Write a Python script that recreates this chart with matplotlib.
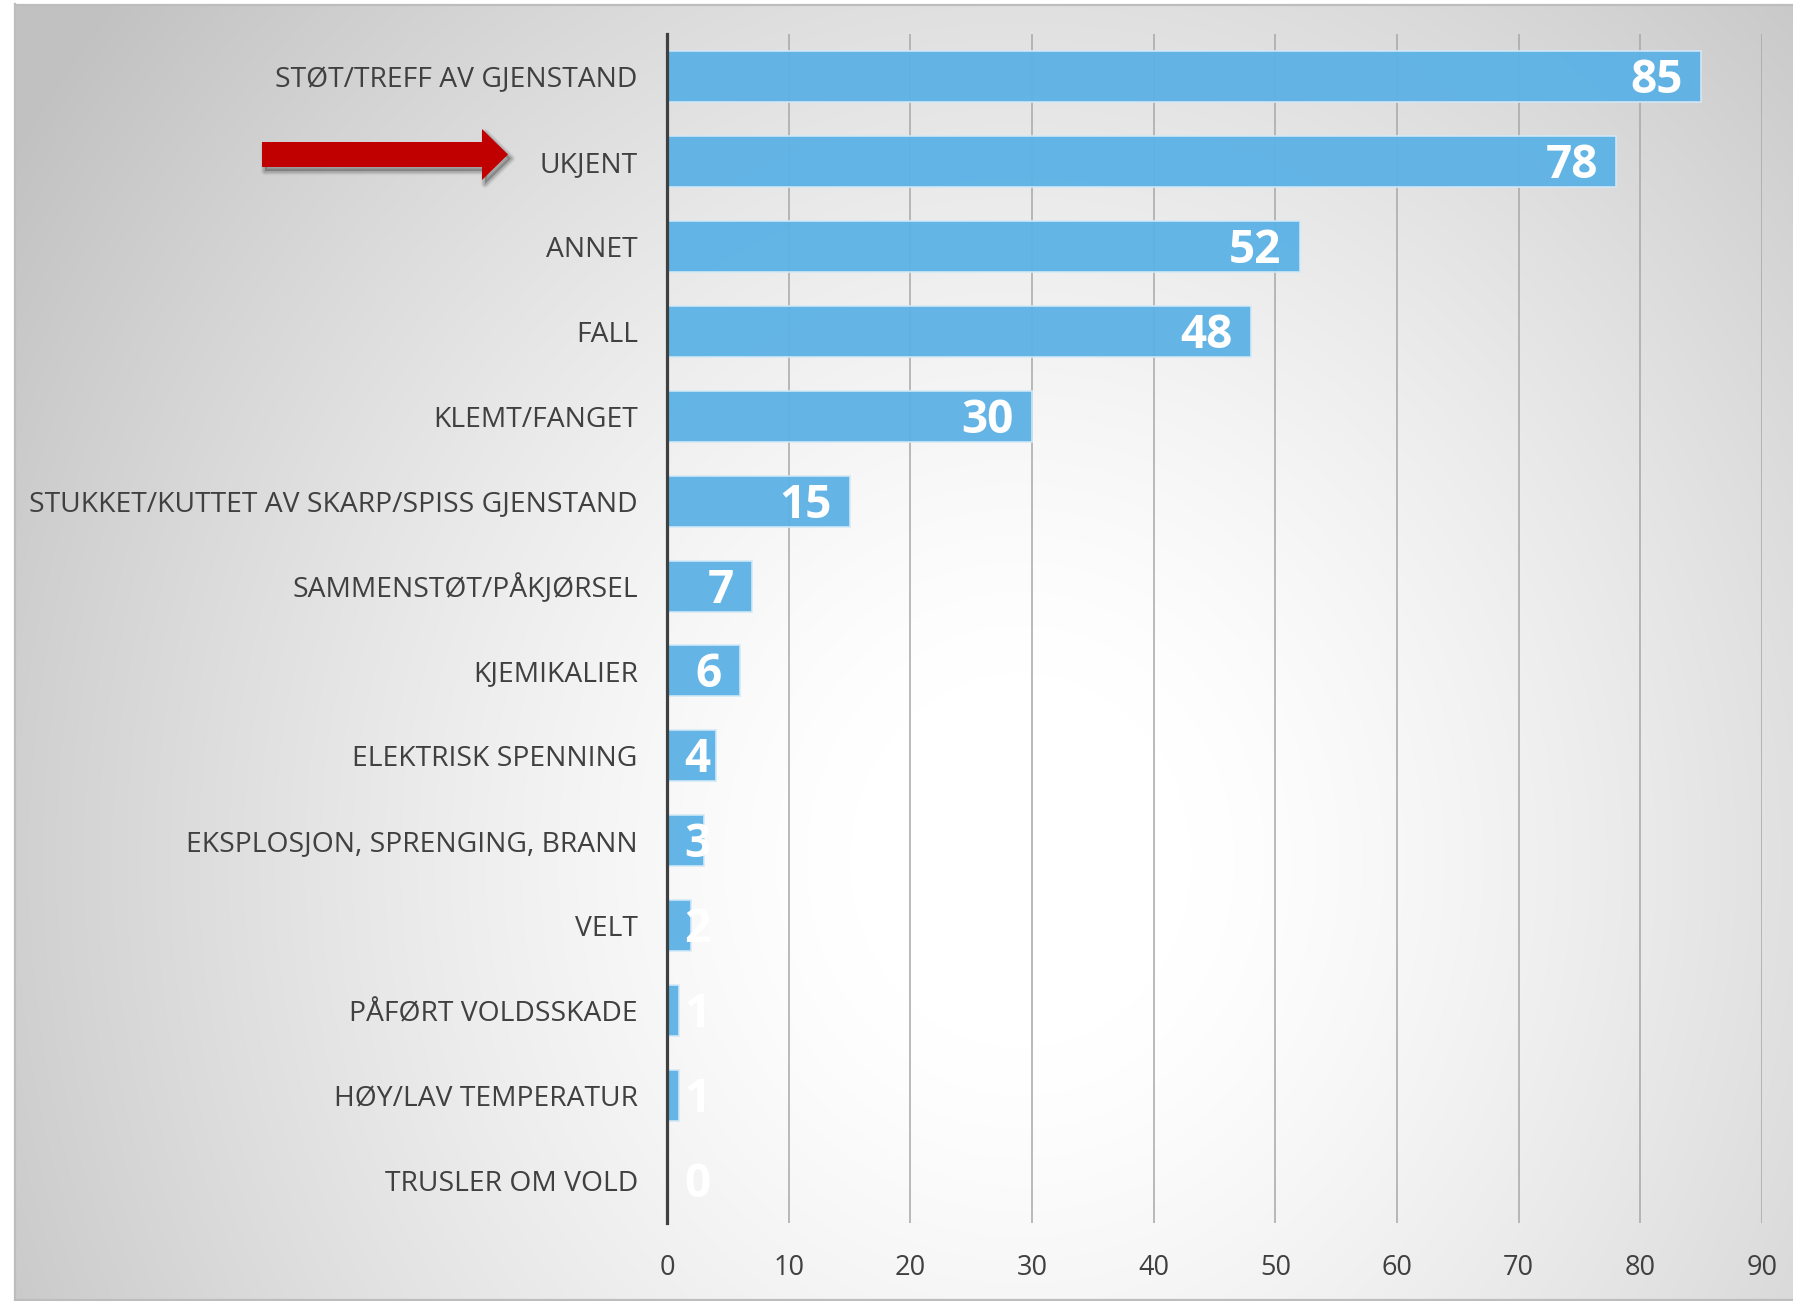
import numpy as np
import matplotlib
matplotlib.use("Agg")
import matplotlib.pyplot as plt
from matplotlib.patches import Polygon
from matplotlib.lines import Line2D

# ---- data ----
categories = [
    "STØT/TREFF AV GJENSTAND",
    "UKJENT",
    "ANNET",
    "FALL",
    "KLEMT/FANGET",
    "STUKKET/KUTTET AV SKARP/SPISS GJENSTAND",
    "SAMMENSTØT/PÅKJØRSEL",
    "KJEMIKALIER",
    "ELEKTRISK SPENNING",
    "EKSPLOSJON, SPRENGING, BRANN",
    "VELT",
    "PÅFØRT VOLDSSKADE",
    "HØY/LAV TEMPERATUR",
    "TRUSLER OM VOLD",
]
values = [85, 78, 52, 48, 30, 15, 7, 6, 4, 3, 2, 1, 1, 0]
x_ticks = [0, 10, 20, 30, 40, 50, 60, 70, 80, 90]

plt.rcParams['font.family'] = ['Open Sans', 'DejaVu Sans']

W, H = 1793, 1301
fig = plt.figure(figsize=(W / 100, H / 100), dpi=100)
fig.patch.set_facecolor('white')

# ---- background gradient (chart area) ----
bg = fig.add_axes([0, 0, 1, 1], zorder=-10)
bg.set_axis_off()
yy, xx = np.mgrid[0:H, 0:W]
cx, cy = 1020.0, 860.0
r = np.sqrt(((xx - cx) * 1.1) ** 2 + ((yy - cy) * 1.0) ** 2) / 1250.0
b = 1.0 - 0.24 * np.clip((r - 0.15) / 0.9, 0, 1) ** 1.3
img = np.dstack([b, b, b])
img[:, :15, :] = 1.0
img[:4, :, :] = 1.0
bg.imshow(img, extent=[0, W, H, 0], aspect='auto', interpolation='bilinear')
bg.set_xlim(0, W)
bg.set_ylim(H, 0)
bg.add_line(Line2D([15, 15], [4, H], color='#BDBDBD', lw=1.6))
bg.add_line(Line2D([15, W], [4.5, 4.5], color='#BDBDBD', lw=1.6))
bg.add_line(Line2D([15, W], [H - 1, H - 1], color='#BDBDBD', lw=1.6))

# red arrow with soft shadow (annotation)
arrow_pts = [(262, 142), (482, 142), (482, 129), (508, 154.5),
             (482, 180), (482, 167), (262, 167)]
for k, a in [(6, 0.05), (4, 0.08), (2.5, 0.10)]:
    sh = [(x + 3, y + 4) for x, y in arrow_pts]
    bg.add_patch(Polygon(sh, closed=True, facecolor='#000000', alpha=a,
                         edgecolor='#000000', lw=k, joinstyle='round'))
bg.add_patch(Polygon(arrow_pts, closed=True, facecolor='#C00000', edgecolor='none'))

# ---- main axes ----
top_px, bot_px, left_px, right_px = 34, 1223, 667, 1762
ax = fig.add_axes([left_px / W, 1 - bot_px / H,
                   (right_px - left_px) / W, (bot_px - top_px) / H])
ax.patch.set_alpha(0)

y = np.arange(len(categories))
ax.barh(y, values, height=0.6, color='#5CB2E6', edgecolor='#D3E9F7',
        linewidth=1.2, alpha=0.95, zorder=2)

ax.set_xlim(0, 90)
ax.set_ylim(len(categories) - 0.5, -0.5)
ax.set_xticks(x_ticks)
ax.set_xticklabels([str(t) for t in x_ticks])
ax.set_yticks(y)
ax.set_yticklabels(categories)

ax.xaxis.grid(True, color='#A8A8A8', lw=1.3, alpha=0.85, zorder=1)
ax.set_axisbelow(True)
for s in ['top', 'right', 'bottom']:
    ax.spines[s].set_visible(False)
ax.spines['left'].set_color('#404040')
ax.spines['left'].set_linewidth(2.3)
ax.spines['left'].set_zorder(5)

ax.tick_params(axis='x', length=0, labelsize=19.5, labelcolor='#404040', pad=22)
ax.tick_params(axis='y', length=0, labelsize=20.3, labelcolor='#404040', pad=21)

for yi, v in zip(y, values):
    if v >= 5:
        ax.annotate(str(v), xy=(v, yi), xytext=(-18, -4), textcoords='offset pixels',
                    ha='right', va='center', color='white', fontsize=33,
                    fontweight='bold', zorder=6)
    else:
        ax.annotate(str(v), xy=(0, yi), xytext=(17, -4), textcoords='offset pixels',
                    ha='left', va='center', color='white', fontsize=33,
                    fontweight='bold', zorder=6, clip_on=False)

fig.savefig('out.png', dpi=100)
